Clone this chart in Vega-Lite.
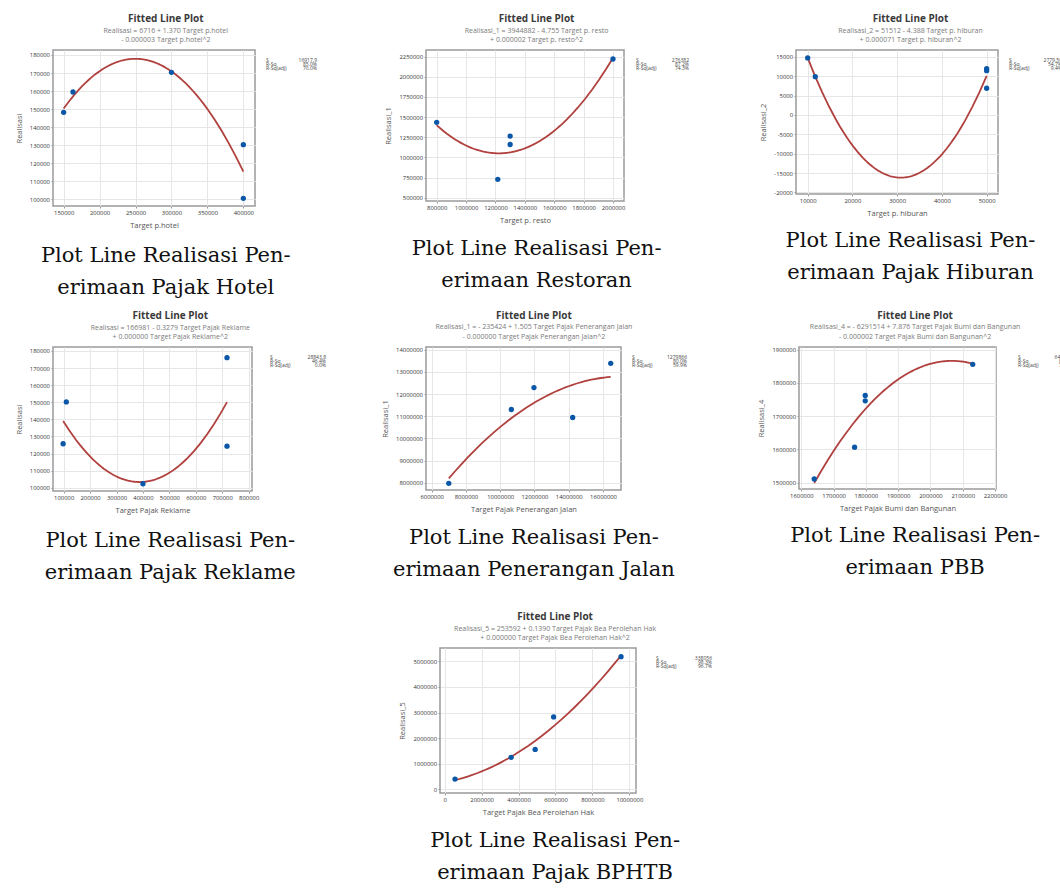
{
  "$schema": "https://vega.github.io/schema/vega-lite/v6.json",
  "padding": {"left": 14, "top": 14, "right": 0, "bottom": 0},
  "background": "white",
  "datasets": {
    "hotel": [
      {"target": 150000, "realisasi": 148200},
      {"target": 163000, "realisasi": 159500},
      {"target": 300000, "realisasi": 170400},
      {"target": 400000, "realisasi": 130300},
      {"target": 400000, "realisasi": 100550}
    ],
    "resto": [
      {"target": 800000, "realisasi": 1435000},
      {"target": 1216000, "realisasi": 728000},
      {"target": 1300000, "realisasi": 1265000},
      {"target": 1300000, "realisasi": 1160000},
      {"target": 2000000, "realisasi": 2221000}
    ],
    "hiburan": [
      {"target": 10000, "realisasi": 14750},
      {"target": 11700, "realisasi": 9900},
      {"target": 50000, "realisasi": 11990},
      {"target": 50000, "realisasi": 11470},
      {"target": 50000, "realisasi": 6920}
    ],
    "reklame": [
      {"target": 98000, "realisasi": 125700},
      {"target": 110000, "realisasi": 150200},
      {"target": 400000, "realisasi": 102300},
      {"target": 718000, "realisasi": 176100},
      {"target": 718000, "realisasi": 124300}
    ],
    "pju": [
      {"target": 7000000, "realisasi": 7970000},
      {"target": 10650000, "realisasi": 11300000},
      {"target": 11970000, "realisasi": 12290000},
      {"target": 14230000, "realisasi": 10940000},
      {"target": 16450000, "realisasi": 13385000}
    ],
    "pbb": [
      {"target": 1640000, "realisasi": 1511000},
      {"target": 1765000, "realisasi": 1606500},
      {"target": 1798000, "realisasi": 1762300},
      {"target": 1798000, "realisasi": 1746000},
      {"target": 2131000, "realisasi": 1855800}
    ],
    "bphtb": [
      {"target": 560000, "realisasi": 400000},
      {"target": 3600000, "realisasi": 1250000},
      {"target": 4900000, "realisasi": 1560000},
      {"target": 5900000, "realisasi": 2830000},
      {"target": 9550000, "realisasi": 5180000}
    ],
    "stats": [
      {"panel": "hotel", "stat": "S", "value": "16917.9"},
      {"panel": "hotel", "stat": "R-Sq", "value": "85.0%"},
      {"panel": "hotel", "stat": "R-Sq(adj)", "value": "70.0%"},
      {"panel": "resto", "stat": "S", "value": "276382"},
      {"panel": "resto", "stat": "R-Sq", "value": "87.2%"},
      {"panel": "resto", "stat": "R-Sq(adj)", "value": "74.3%"},
      {"panel": "hiburan", "stat": "S", "value": "2779.50"},
      {"panel": "hiburan", "stat": "R-Sq", "value": "54.7%"},
      {"panel": "hiburan", "stat": "R-Sq(adj)", "value": "9.4%"},
      {"panel": "reklame", "stat": "S", "value": "28843.8"},
      {"panel": "reklame", "stat": "R-Sq", "value": "46.4%"},
      {"panel": "reklame", "stat": "R-Sq(adj)", "value": "0.0%"},
      {"panel": "pju", "stat": "S", "value": "1279866"},
      {"panel": "pju", "stat": "R-Sq", "value": "80.0%"},
      {"panel": "pju", "stat": "R-Sq(adj)", "value": "59.9%"},
      {"panel": "pbb", "stat": "S", "value": "64110.5"},
      {"panel": "pbb", "stat": "R-Sq", "value": "89.0%"},
      {"panel": "pbb", "stat": "R-Sq(adj)", "value": "77.9%"},
      {"panel": "bphtb", "stat": "S", "value": "338056"},
      {"panel": "bphtb", "stat": "R-Sq", "value": "98.3%"},
      {"panel": "bphtb", "stat": "R-Sq(adj)", "value": "96.7%"}
    ]
  },
  "vconcat": [
    {
      "hconcat": [
        {
          "hconcat": [
            {
              "vconcat": [{
                "hconcat": [
                  {
                    "width": 202, "height": 156,
                    "data": {"name": "hotel"},
                    "encoding": {
                      "x": {"field": "target", "type": "quantitative", "scale": {"domain": [135185, 416200], "nice": false, "zero": false}, "axis": {"title": "Target p.hotel", "values": [150000, 200000, 250000, 300000, 350000, 400000], "format": "d"}},
                      "y": {"field": "realisasi", "type": "quantitative", "scale": {"domain": [96305, 182771], "nice": false, "zero": false}, "axis": {"title": "Realisasi", "values": [100000, 110000, 120000, 130000, 140000, 150000, 160000, 170000, 180000], "format": "d"}}
                    },
                    "layer": [
                      {"transform": [{"regression": "realisasi", "on": "target", "method": "poly", "order": 2}], "mark": {"type": "line", "color": "#b0413e", "strokeWidth": 1.8}},
                      {"mark": {"type": "point", "filled": true, "color": "#0a57a8", "size": 28, "opacity": 1}}
                    ]
                  },
                  {
                    "width": 51, "height": 24,
                    "data": {"name": "stats"},
                    "transform": [{"filter": "datum.panel == 'hotel'"}],
                    "view": {"stroke": null},
                    "encoding": {"y": {"field": "stat", "type": "nominal", "scale": {"type": "point", "domain": ["S", "R-Sq", "R-Sq(adj)"], "range": [7.5, 20.5]}, "axis": null}},
                    "layer": [
                      {"mark": {"type": "text", "align": "left", "baseline": "middle", "fontSize": 5, "color": "#444"}, "encoding": {"x": {"datum": 0, "type": "quantitative", "scale": {"domain": [0, 1]}, "axis": null}, "text": {"field": "stat", "type": "nominal"}}},
                      {"mark": {"type": "text", "align": "right", "baseline": "middle", "fontSize": 5, "color": "#444"}, "encoding": {"x": {"datum": 1, "type": "quantitative"}, "text": {"field": "value", "type": "nominal"}}}
                    ]
                  }
                ],
                "spacing": 10,
                "title": {"text": "Fitted Line Plot", "subtitle": ["Realisasi = 6716 + 1.370 Target p.hotel", "- 0.000003 Target p.hotel^2"]}
              }],
              "title": {"text": ["Plot Line Realisasi Pen-", "erimaan Pajak Hotel"], "orient": "bottom", "font": "DejaVu Serif", "fontSize": 21, "fontWeight": "normal", "color": "#111111", "lineHeight": 32, "offset": 15, "anchor": "middle"}
            },
            {
              "vconcat": [{
                "hconcat": [
                  {
                    "width": 198, "height": 151,
                    "data": {"name": "resto"},
                    "encoding": {
                      "x": {"field": "target", "type": "quantitative", "scale": {"domain": [727300, 2075000], "nice": false, "zero": false}, "axis": {"title": "Target p. resto", "values": [800000, 1000000, 1200000, 1400000, 1600000, 1800000, 2000000], "format": "d"}},
                      "y": {"field": "realisasi", "type": "quantitative", "scale": {"domain": [458600, 2332700], "nice": false, "zero": false}, "axis": {"title": "Realisasi_1", "values": [500000, 750000, 1000000, 1250000, 1500000, 1750000, 2000000, 2250000], "format": "d"}}
                    },
                    "layer": [
                      {"transform": [{"regression": "realisasi", "on": "target", "method": "poly", "order": 2}], "mark": {"type": "line", "color": "#b0413e", "strokeWidth": 1.8}},
                      {"mark": {"type": "point", "filled": true, "color": "#0a57a8", "size": 28, "opacity": 1}}
                    ]
                  },
                  {
                    "width": 53, "height": 24,
                    "data": {"name": "stats"},
                    "transform": [{"filter": "datum.panel == 'resto'"}],
                    "view": {"stroke": null},
                    "encoding": {"y": {"field": "stat", "type": "nominal", "scale": {"type": "point", "domain": ["S", "R-Sq", "R-Sq(adj)"], "range": [7.5, 20.5]}, "axis": null}},
                    "layer": [
                      {"mark": {"type": "text", "align": "left", "baseline": "middle", "fontSize": 5, "color": "#444"}, "encoding": {"x": {"datum": 0, "type": "quantitative", "scale": {"domain": [0, 1]}, "axis": null}, "text": {"field": "stat", "type": "nominal"}}},
                      {"mark": {"type": "text", "align": "right", "baseline": "middle", "fontSize": 5, "color": "#444"}, "encoding": {"x": {"datum": 1, "type": "quantitative"}, "text": {"field": "value", "type": "nominal"}}}
                    ]
                  }
                ],
                "spacing": 10,
                "title": {"text": "Fitted Line Plot", "subtitle": ["Realisasi_1 = 3944882 - 4.755 Target p. resto", "+ 0.000002 Target p. resto^2"]}
              }],
              "title": {"text": ["Plot Line Realisasi Pen-", "erimaan Restoran"], "orient": "bottom", "font": "DejaVu Serif", "fontSize": 21, "fontWeight": "normal", "color": "#111111", "lineHeight": 32, "offset": 13, "anchor": "middle"}
            }
          ],
          "spacing": 67
        },
        {
          "vconcat": [{
            "hconcat": [
              {
                "width": 202, "height": 144,
                "data": {"name": "hiburan"},
                "encoding": {
                  "x": {"field": "target", "type": "quantitative", "scale": {"domain": [7388, 52537], "nice": false, "zero": false}, "axis": {"title": "Target p. hiburan", "values": [10000, 20000, 30000, 40000, 50000], "format": "d"}},
                  "y": {"field": "realisasi", "type": "quantitative", "scale": {"domain": [-20430, 16806], "nice": false, "zero": false}, "axis": {"title": "Realisasi_2", "values": [-20000, -15000, -10000, -5000, 0, 5000, 10000, 15000], "format": "d", "labelExpr": "replace(datum.label, '\u2212', '-')"}}
                },
                "layer": [
                  {"transform": [{"regression": "realisasi", "on": "target", "method": "poly", "order": 2}], "mark": {"type": "line", "color": "#b0413e", "strokeWidth": 1.8}},
                  {"mark": {"type": "point", "filled": true, "color": "#0a57a8", "size": 28, "opacity": 1}}
                ]
              },
              {
                "width": 53, "height": 24,
                "data": {"name": "stats"},
                "transform": [{"filter": "datum.panel == 'hiburan'"}],
                "view": {"stroke": null},
                "encoding": {"y": {"field": "stat", "type": "nominal", "scale": {"type": "point", "domain": ["S", "R-Sq", "R-Sq(adj)"], "range": [7.5, 20.5]}, "axis": null}},
                "layer": [
                  {"mark": {"type": "text", "align": "left", "baseline": "middle", "fontSize": 5, "color": "#444"}, "encoding": {"x": {"datum": 0, "type": "quantitative", "scale": {"domain": [0, 1]}, "axis": null}, "text": {"field": "stat", "type": "nominal"}}},
                  {"mark": {"type": "text", "align": "right", "baseline": "middle", "fontSize": 5, "color": "#444"}, "encoding": {"x": {"datum": 1, "type": "quantitative"}, "text": {"field": "value", "type": "nominal"}}}
                ]
              }
            ],
            "spacing": 10,
            "title": {"text": "Fitted Line Plot", "subtitle": ["Realisasi_2 = 51512 - 4.388 Target p. hiburan", "+ 0.000071 Target p. hiburan^2"]}
          }],
          "title": {"text": ["Plot Line Realisasi Pen-", "erimaan Pajak Hiburan"], "orient": "bottom", "font": "DejaVu Serif", "fontSize": 21, "fontWeight": "normal", "color": "#111111", "lineHeight": 32, "offset": 12, "anchor": "middle"}
        }
      ],
      "spacing": 70
    },
    {
      "hconcat": [
        {
          "hconcat": [
            {
              "vconcat": [{
                "hconcat": [
                  {
                    "width": 199, "height": 144,
                    "data": {"name": "reklame"},
                    "encoding": {
                      "x": {"field": "target", "type": "quantitative", "scale": {"domain": [59650, 812600], "nice": false, "zero": false}, "axis": {"title": "Target Pajak Reklame", "values": [100000, 200000, 300000, 400000, 500000, 600000, 700000, 800000], "format": "d"}},
                      "y": {"field": "realisasi", "type": "quantitative", "scale": {"domain": [98050, 182340], "nice": false, "zero": false}, "axis": {"title": "Realisasi", "values": [100000, 110000, 120000, 130000, 140000, 150000, 160000, 170000, 180000], "format": "d"}}
                    },
                    "layer": [
                      {"transform": [{"regression": "realisasi", "on": "target", "method": "poly", "order": 2}], "mark": {"type": "line", "color": "#b0413e", "strokeWidth": 1.8}},
                      {"mark": {"type": "point", "filled": true, "color": "#0a57a8", "size": 28, "opacity": 1}}
                    ]
                  },
                  {
                    "width": 56, "height": 24,
                    "data": {"name": "stats"},
                    "transform": [{"filter": "datum.panel == 'reklame'"}],
                    "view": {"stroke": null},
                    "encoding": {"y": {"field": "stat", "type": "nominal", "scale": {"type": "point", "domain": ["S", "R-Sq", "R-Sq(adj)"], "range": [7.5, 20.5]}, "axis": null}},
                    "layer": [
                      {"mark": {"type": "text", "align": "left", "baseline": "middle", "fontSize": 5, "color": "#444"}, "encoding": {"x": {"datum": 0, "type": "quantitative", "scale": {"domain": [0, 1]}, "axis": null}, "text": {"field": "stat", "type": "nominal"}}},
                      {"mark": {"type": "text", "align": "right", "baseline": "middle", "fontSize": 5, "color": "#444"}, "encoding": {"x": {"datum": 1, "type": "quantitative"}, "text": {"field": "value", "type": "nominal"}}}
                    ]
                  }
                ],
                "spacing": 10,
                "title": {"text": "Fitted Line Plot", "subtitle": ["Realisasi = 166981 - 0.3279 Target Pajak Reklame", "+ 0.000000 Target Pajak Reklame^2"]}
              }],
              "title": {"text": ["Plot Line Realisasi Pen-", "erimaan Pajak Reklame"], "orient": "bottom", "font": "DejaVu Serif", "fontSize": 21, "fontWeight": "normal", "color": "#111111", "lineHeight": 32, "offset": 15, "anchor": "middle"}
            },
            {
              "vconcat": [{
                "hconcat": [
                  {
                    "width": 195, "height": 143,
                    "data": {"name": "pju"},
                    "encoding": {
                      "x": {"field": "target", "type": "quantitative", "scale": {"domain": [5669000, 17050000], "nice": false, "zero": false}, "axis": {"title": "Target Pajak Penerangan Jalan", "values": [6000000, 8000000, 10000000, 12000000, 14000000, 16000000], "format": "d"}},
                      "y": {"field": "realisasi", "type": "quantitative", "scale": {"domain": [7670000, 14120000], "nice": false, "zero": false}, "axis": {"title": "Realisasi_1", "values": [8000000, 9000000, 10000000, 11000000, 12000000, 13000000, 14000000], "format": "d"}}
                    },
                    "layer": [
                      {"transform": [{"regression": "realisasi", "on": "target", "method": "poly", "order": 2}], "mark": {"type": "line", "color": "#b0413e", "strokeWidth": 1.8}},
                      {"mark": {"type": "point", "filled": true, "color": "#0a57a8", "size": 28, "opacity": 1}}
                    ]
                  },
                  {
                    "width": 55, "height": 24,
                    "data": {"name": "stats"},
                    "transform": [{"filter": "datum.panel == 'pju'"}],
                    "view": {"stroke": null},
                    "encoding": {"y": {"field": "stat", "type": "nominal", "scale": {"type": "point", "domain": ["S", "R-Sq", "R-Sq(adj)"], "range": [7.5, 20.5]}, "axis": null}},
                    "layer": [
                      {"mark": {"type": "text", "align": "left", "baseline": "middle", "fontSize": 5, "color": "#444"}, "encoding": {"x": {"datum": 0, "type": "quantitative", "scale": {"domain": [0, 1]}, "axis": null}, "text": {"field": "stat", "type": "nominal"}}},
                      {"mark": {"type": "text", "align": "right", "baseline": "middle", "fontSize": 5, "color": "#444"}, "encoding": {"x": {"datum": 1, "type": "quantitative"}, "text": {"field": "value", "type": "nominal"}}}
                    ]
                  }
                ],
                "spacing": 10,
                "title": {"text": "Fitted Line Plot", "subtitle": ["Realisasi_1 = - 235424 + 1.505 Target Pajak Penerangan Jalan", "- 0.000000 Target Pajak Penerangan Jalan^2"]}
              }],
              "title": {"text": ["Plot Line Realisasi Pen-", "erimaan Penerangan Jalan"], "orient": "bottom", "font": "DejaVu Serif", "fontSize": 21, "fontWeight": "normal", "color": "#111111", "lineHeight": 32, "offset": 13, "anchor": "middle"}
            }
          ],
          "spacing": 54
        },
        {
          "vconcat": [{
            "hconcat": [
              {
                "width": 197, "height": 142,
                "data": {"name": "pbb"},
                "encoding": {
                  "x": {"field": "target", "type": "quantitative", "scale": {"domain": [1592800, 2203100], "nice": false, "zero": false}, "axis": {"title": "Target Pajak Bumi dan Bangunan", "values": [1600000, 1700000, 1800000, 1900000, 2000000, 2100000, 2200000], "format": "d"}},
                  "y": {"field": "realisasi", "type": "quantitative", "scale": {"domain": [1480900, 1908000], "nice": false, "zero": false}, "axis": {"title": "Realisasi_4", "values": [1500000, 1600000, 1700000, 1800000, 1900000], "format": "d"}}
                },
                "layer": [
                  {"transform": [{"regression": "realisasi", "on": "target", "method": "poly", "order": 2}], "mark": {"type": "line", "color": "#b0413e", "strokeWidth": 1.8}},
                  {"mark": {"type": "point", "filled": true, "color": "#0a57a8", "size": 28, "opacity": 1}}
                ]
              },
              {
                "width": 55, "height": 24,
                "data": {"name": "stats"},
                "transform": [{"filter": "datum.panel == 'pbb'"}],
                "view": {"stroke": null},
                "encoding": {"y": {"field": "stat", "type": "nominal", "scale": {"type": "point", "domain": ["S", "R-Sq", "R-Sq(adj)"], "range": [7.5, 20.5]}, "axis": null}},
                "layer": [
                  {"mark": {"type": "text", "align": "left", "baseline": "middle", "fontSize": 5, "color": "#444"}, "encoding": {"x": {"datum": 0, "type": "quantitative", "scale": {"domain": [0, 1]}, "axis": null}, "text": {"field": "stat", "type": "nominal"}}},
                  {"mark": {"type": "text", "align": "right", "baseline": "middle", "fontSize": 5, "color": "#444"}, "encoding": {"x": {"datum": 1, "type": "quantitative"}, "text": {"field": "value", "type": "nominal"}}}
                ]
              }
            ],
            "spacing": 10,
            "title": {"text": "Fitted Line Plot", "subtitle": ["Realisasi_4 = - 6291514 + 7.876 Target Pajak Bumi dan Bangunan", "- 0.000002 Target Pajak Bumi dan Bangunan^2"]}
          }],
          "title": {"text": ["Plot Line Realisasi Pen-", "erimaan PBB"], "orient": "bottom", "font": "DejaVu Serif", "fontSize": 21, "fontWeight": "normal", "color": "#111111", "lineHeight": 32, "offset": 12, "anchor": "middle"}
        }
      ],
      "spacing": 70
    },
    {
      "width": 1, "height": 5,
      "data": {"values": []},
      "view": {"stroke": null},
      "mark": "point",
      "encoding": {}
    },
    {
      "hconcat": [
        {
          "width": 271, "height": 1,
          "data": {"values": []},
          "view": {"stroke": null},
          "mark": "point",
          "encoding": {}
        },
        {
          "vconcat": [{
            "hconcat": [
              {
                "width": 196, "height": 145,
                "data": {"name": "bphtb"},
                "encoding": {
                  "x": {"field": "target", "type": "quantitative", "scale": {"domain": [-253000, 10360000], "nice": false, "zero": false}, "axis": {"title": "Target Pajak Bea Perolehan Hak", "values": [0, 2000000, 4000000, 6000000, 8000000, 10000000], "format": "d"}},
                  "y": {"field": "realisasi", "type": "quantitative", "scale": {"domain": [-143000, 5520000], "nice": false, "zero": false}, "axis": {"title": "Realisasi_5", "values": [0, 1000000, 2000000, 3000000, 4000000, 5000000], "format": "d"}}
                },
                "layer": [
                  {"transform": [{"regression": "realisasi", "on": "target", "method": "poly", "order": 2}], "mark": {"type": "line", "color": "#b0413e", "strokeWidth": 1.8}},
                  {"mark": {"type": "point", "filled": true, "color": "#0a57a8", "size": 28, "opacity": 1}}
                ]
              },
              {
                "width": 56, "height": 24,
                "data": {"name": "stats"},
                "transform": [{"filter": "datum.panel == 'bphtb'"}],
                "view": {"stroke": null},
                "encoding": {"y": {"field": "stat", "type": "nominal", "scale": {"type": "point", "domain": ["S", "R-Sq", "R-Sq(adj)"], "range": [7.5, 20.5]}, "axis": null}},
                "layer": [
                  {"mark": {"type": "text", "align": "left", "baseline": "middle", "fontSize": 5, "color": "#444"}, "encoding": {"x": {"datum": 0, "type": "quantitative", "scale": {"domain": [0, 1]}, "axis": null}, "text": {"field": "stat", "type": "nominal"}}},
                  {"mark": {"type": "text", "align": "right", "baseline": "middle", "fontSize": 5, "color": "#444"}, "encoding": {"x": {"datum": 1, "type": "quantitative"}, "text": {"field": "value", "type": "nominal"}}}
                ]
              }
            ],
            "spacing": 12,
            "title": {"text": "Fitted Line Plot", "subtitle": ["Realisasi_5 = 253592 + 0.1390 Target Pajak Bea Perolehan Hak", "+ 0.000000 Target Pajak Bea Perolehan Hak^2"]}
          }],
          "title": {"text": ["Plot Line Realisasi Pen-", "erimaan Pajak BPHTB"], "orient": "bottom", "font": "DejaVu Serif", "fontSize": 21, "fontWeight": "normal", "color": "#111111", "lineHeight": 32, "offset": 13, "anchor": "middle"}
        }
      ],
      "spacing": 74
    }
  ],
  "spacing": 12,
  "config": {
    "font": "Open Sans",
    "view": {"stroke": "#9a9a9a", "strokeWidth": 1.5},
    "axis": {
      "labelFontSize": 5.9,
      "labelColor": "#333333",
      "labelOverlap": false,
      "labelFlush": false,
      "labelPadding": 1.5,
      "titleFontSize": 7.5,
      "titleColor": "#555555",
      "titleFontWeight": "normal",
      "titlePadding": 6,
      "grid": true,
      "gridColor": "#e6e6e6",
      "domain": false,
      "ticks": true,
      "tickColor": "#999999",
      "tickSize": 2
    },
    "title": {
      "font": "Open Sans",
      "fontSize": 10,
      "fontWeight": "bold",
      "color": "#3a3a3a",
      "subtitleFont": "Open Sans",
      "subtitleFontSize": 7,
      "subtitleColor": "#7a7a7a",
      "subtitlePadding": 2.5,
      "subtitleLineHeight": 9.5,
      "offset": 6,
      "anchor": "middle"
    }
  }
}
